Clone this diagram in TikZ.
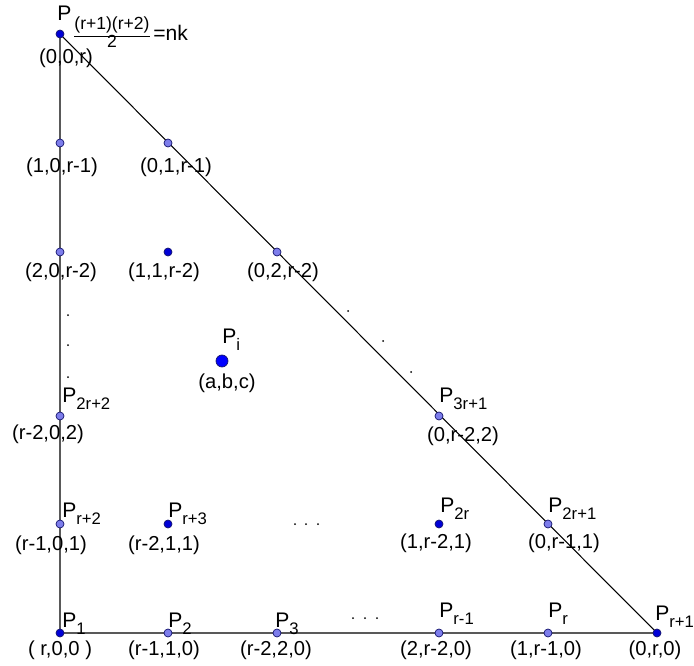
\documentclass[tikz,border=0pt]{standalone}
\usepackage{fontspec}
\setmainfont{Liberation Sans}
\usepackage{tikz}
\usetikzlibrary{calc,backgrounds}
\definecolor{ptlight}{RGB}{125,125,235}
\definecolor{ptdark}{RGB}{0,0,215}
\definecolor{ptrim}{RGB}{20,20,110}
\newcommand{\Pn}[1]{P\raisebox{-4.5pt}{\fontsize{9.5}{11}\selectfont #1}}

\begin{document}
\begin{tikzpicture}[x=0.02cm, y=-0.02cm,
  lpt/.style={circle, draw=ptrim, fill=ptlight, minimum size=0.16cm, inner sep=0pt, line width=0.4pt},
  dpt/.style={circle, draw=ptrim, fill=ptdark, minimum size=0.16cm, inner sep=0pt, line width=0.4pt},
  bigpt/.style={circle, draw=ptrim, fill=blue, minimum size=0.24cm, inner sep=0pt, line width=0.4pt},
  plab/.style={anchor=base west, inner sep=0pt, font=\fontsize{12}{14}\selectfont},
  clab/.style={inner sep=0pt, font=\fontsize{11.5}{13}\selectfont},
  frac/.style={inner sep=0pt, anchor=base, font=\fontsize{10}{12}\selectfont},
  edge/.style={line width=0.6pt}
]
\useasboundingbox (0,0) rectangle (694,666);

% corners
\node[dpt] (top) at (60,34) {};
\node[dpt] (p1) at (60,633) {};
\node[dpt] (pr1) at (657,633) {};

% left side
\node[lpt] (l1) at (60,143) {};
\node[lpt] (l2) at (60,252) {};
\node[lpt] (p2r2) at (60,416) {};
\node[lpt] (pr2) at (60,524) {};

% hypotenuse
\node[lpt] (h1) at (168,143) {};
\node[lpt] (h2) at (277,252) {};
\node[lpt] (p3r1) at (439,416) {};
\node[lpt] (p2r1) at (548,524) {};

% bottom
\node[lpt] (p2) at (168,633) {};
\node[lpt] (p3) at (277,633) {};
\node[lpt] (prm) at (439,633) {};
\node[lpt] (pr) at (548,633) {};

% inside
\node[dpt] (m1) at (168,252) {};
\node[dpt] (pr3) at (168,524) {};
\node[dpt] (p2r) at (439,524) {};
\node[bigpt] (pi) at (222,361) {};

\begin{pgfonlayer}{background}
\draw[edge] (top.center) -- (p1.center) -- (pr1.center) -- (top.center);
\end{pgfonlayer}

% names
\node[plab] (ltop) at ($(top)+(-3,-14)$) {P};
\node[frac] (num) at (112,30) {(r+1)(r+2)};
\node[frac] (den) at (112,48) {2};
\draw[line width=0.5pt] ($(num.south west)+(0,2.5)$) -- ($(num.south east)+(0,2.5)$);
\node[plab] (eqnk) at ($(num.south east)+(3,7)$) {=nk};
\node[plab] (lp1) at ($(p1)+(2,-6)$) {\Pn{1}};
\node[plab] (lp2) at ($(p2)+(0,-6)$) {\Pn{2}};
\node[plab] (lp3) at ($(p3)+(-2,-6)$) {\Pn{3}};
\node[plab] (lprm) at ($(prm)+(0,-16)$) {\Pn{r-1}};
\node[plab] (lpr) at ($(pr)+(0,-16)$) {\Pn{r}};
\node[plab] (lpr1) at ($(pr1)+(-2,-13)$) {\Pn{r+1}};
\node[plab] (lpr2) at ($(pr2)+(2,-7)$) {\Pn{r+2}};
\node[plab] (lpr3) at ($(pr3)+(0,-7)$) {\Pn{r+3}};
\node[plab] (lp2r) at ($(p2r)+(1,-12)$) {\Pn{2r}};
\node[plab] (lp2r1) at ($(p2r1)+(0,-12)$) {\Pn{2r+1}};
\node[plab] (lp2r2) at ($(p2r2)+(2,-14)$) {\Pn{2r+2}};
\node[plab] (lp3r1) at ($(p3r1)+(0,-14)$) {\Pn{3r+1}};
\node[plab] (lpi) at ($(pi)+(0,-18)$) {\Pn{i}};

% coordinates
\node[clab] (ctop) at ($(top)+(6,24)$) {(0,0,r)};
\node[clab] (cl1) at ($(l1)+(2,24)$) {(1,0,r-1)};
\node[clab] (ch1) at ($(h1)+(8,24)$) {(0,1,r-1)};
\node[clab] (cl2) at ($(l2)+(1,20)$) {(2,0,r-2)};
\node[clab] (cm1) at ($(m1)+(-4,20)$) {(1,1,r-2)};
\node[clab] (ch2) at ($(h2)+(6,20)$) {(0,2,r-2)};
\node[clab] (cpi) at ($(pi)+(5,22)$) {(a,b,c)};
\node[clab] (cp2r2) at ($(p2r2)+(-12,18)$) {(r-2,0,2)};
\node[clab] (cp3r1) at ($(p3r1)+(24,20)$) {(0,r-2,2)};
\node[clab] (cpr2) at ($(pr2)+(-9,21)$) {(r-1,0,1)};
\node[clab] (cpr3) at ($(pr3)+(-4,21)$) {(r-2,1,1)};
\node[clab] (cp2r) at ($(p2r)+(-3,19)$) {(1,r-2,1)};
\node[clab] (cp2r1) at ($(p2r1)+(16,19)$) {(0,r-1,1)};
\node[clab] (cp1) at ($(p1)+(0,17)$) {( r,0,0 )};
\node[clab] (cp2) at ($(p2)+(-4,17)$) {(r-1,1,0)};
\node[clab] (cp3) at ($(p3)+(-1,17)$) {(r-2,2,0)};
\node[clab] (cprm) at ($(prm)+(-3,17)$) {(2,r-2,0)};
\node[clab] (cpr) at ($(pr)+(-2,17)$) {(1,r-1,0)};
\node[clab] (cpr1) at ($(pr1)+(-2,17)$) {(0,r,0)};

% dots
\foreach \x/\y in {68/315, 68/345, 68/377, 348/311, 383/341, 411/372,
  295/524, 306/524, 318/524, 353/618, 365/618, 377/618}
  \fill (\x,\y) circle (0.02cm);
\end{tikzpicture}
\end{document}
